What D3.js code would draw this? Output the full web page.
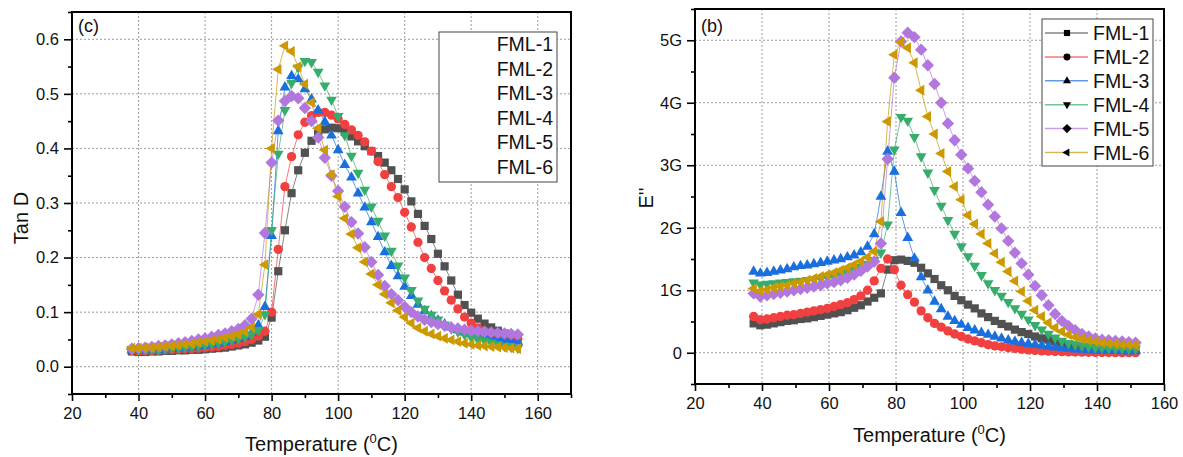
<!DOCTYPE html>
<html>
<head>
<meta charset="utf-8">
<script src="https://cdn.jsdelivr.net/npm/d3@7"></script>
<style>
  body { margin: 0; background: #fff; }
  text { font-family: Arial, "Liberation Sans", sans-serif; fill: #111; }
</style>
</head>
<body>
<svg id="chart" width="1183" height="457"></svg>
<script>
// ---- data ----
const names = ["FML-1", "FML-2", "FML-3", "FML-4", "FML-5", "FML-6"];
const colors = ["#515151", "#F14040", "#1A6FDF", "#37AD6B", "#B177DE", "#CC9900"];
const shapes = ["square", "circle", "up", "down", "diamond", "left"];

// panel (c): tan delta
const tanTemps = [38,40,42,44,46,48,50,52,54,56,58,60,62,64,66,68,70,72,74,76,78,80,82,84,86,88,90,92,94,96,98,100,102,104,106,108,110,112,114,116,118,120,122,124,126,128,130,132,134,136,138,140,142,144,146,148,150,152,154];
const tanFML1 = [.028,.027,.027,.028,.028,.029,.029,.030,.030,.031,.031,.032,.033,.034,.035,.037,.039,.041,.044,.048,.055,.090,.175,.250,.318,.360,.392,.414,.427,.435,.438,.437,.430,.422,.413,.404,.395,.386,.374,.360,.344,.325,.303,.280,.258,.234,.207,.184,.158,.132,.113,.099,.088,.079,.072,.066,.061,.057,.054];
const tanFML2 = [.030,.029,.029,.030,.030,.031,.031,.032,.033,.033,.034,.035,.036,.037,.039,.041,.043,.046,.050,.056,.065,.100,.215,.330,.385,.425,.448,.460,.466,.466,.461,.454,.444,.434,.424,.412,.395,.376,.352,.330,.310,.283,.256,.228,.200,.180,.158,.139,.122,.106,.091,.080,.071,.065,.061,.058,.055,.053,.051];
const tanFML3 = [.030,.030,.030,.031,.031,.032,.033,.034,.035,.036,.038,.039,.041,.043,.045,.048,.051,.055,.062,.076,.110,.240,.432,.512,.533,.527,.509,.490,.470,.449,.424,.397,.370,.347,.318,.292,.265,.238,.210,.185,.166,.147,.130,.114,.102,.093,.085,.078,.072,.067,.063,.060,.057,.055,.053,.051,.049,.048,.046];
const tanFML4 = [.032,.031,.031,.032,.032,.033,.034,.035,.036,.037,.039,.040,.042,.044,.046,.049,.052,.055,.059,.067,.096,.250,.390,.470,.520,.548,.560,.558,.540,.515,.489,.459,.424,.386,.355,.324,.293,.267,.240,.212,.185,.163,.140,.121,.106,.095,.086,.077,.070,.064,.059,.054,.050,.047,.044,.041,.038,.036,.034];
const tanFML5 = [.033,.034,.035,.036,.038,.039,.041,.043,.045,.047,.050,.052,.055,.058,.061,.065,.069,.076,.088,.132,.245,.374,.451,.487,.496,.492,.474,.450,.420,.383,.350,.322,.293,.265,.244,.219,.192,.168,.148,.133,.122,.110,.100,.092,.086,.082,.078,.075,.072,.070,.068,.066,.065,.064,.063,.062,.061,.060,.059];
const tanFML6 = [.034,.034,.035,.035,.036,.037,.038,.039,.041,.042,.044,.046,.048,.050,.053,.056,.059,.064,.072,.096,.187,.400,.545,.588,.578,.550,.518,.484,.437,.397,.352,.312,.272,.243,.218,.192,.170,.150,.133,.117,.103,.091,.080,.071,.065,.060,.056,.052,.049,.046,.043,.041,.039,.038,.037,.036,.035,.034,.033];

// panel (b): loss modulus E'' in G
const lossTemps = [37.5,39.5,41.5,43.5,45.5,47.5,49.5,51.5,53.5,55.5,57.5,59.5,61.5,63.5,65.5,67.5,69.5,71.5,73.5,75.5,77.5,79.5,81.5,83.5,85.5,87.5,89.5,91.5,93.5,95.5,97.5,99.5,101.5,103.5,105.5,107.5,109.5,111.5,113.5,115.5,117.5,119.5,121.5,123.5,125.5,127.5,129.5,131.5,133.5,135.5,137.5,139.5,141.5,143.5,145.5,147.5,149.5,151.5];
const lossFML1 = [0.47,0.44,0.45,0.47,0.49,0.51,0.52,0.54,0.55,0.57,0.59,0.61,0.63,0.65,0.68,0.72,0.76,0.82,0.88,0.95,1.33,1.48,1.49,1.47,1.44,1.36,1.27,1.18,1.08,1.00,0.91,0.84,0.77,0.71,0.63,0.57,0.51,0.46,0.42,0.37,0.33,0.30,0.26,0.23,0.21,0.18,0.16,0.13,0.115,0.10,0.085,0.075,0.065,0.058,0.052,0.048,0.045,0.043];
const lossFML2 = [0.58,0.53,0.54,0.56,0.58,0.60,0.61,0.63,0.65,0.67,0.69,0.71,0.74,0.77,0.80,0.85,0.91,1.00,1.15,1.35,1.50,1.33,1.08,0.93,0.81,0.67,0.56,0.47,0.41,0.35,0.30,0.26,0.22,0.19,0.16,0.13,0.11,0.095,0.08,0.068,0.055,0.045,0.038,0.030,0.025,0.020,0.017,0.014,0.011,0.009,0.007,0.005,0.004,0.003,0.002,0.002,0.001,0.001];
const lossFML3 = [1.30,1.27,1.28,1.30,1.32,1.34,1.37,1.39,1.40,1.42,1.44,1.46,1.48,1.50,1.53,1.56,1.61,1.70,1.90,2.50,3.22,2.90,2.24,1.84,1.51,1.21,1.00,0.82,0.70,0.58,0.51,0.45,0.40,0.36,0.32,0.29,0.26,0.23,0.20,0.18,0.16,0.145,0.13,0.115,0.10,0.088,0.076,0.066,0.057,0.050,0.044,0.040,0.036,0.033,0.031,0.029,0.028,0.027];
const lossFML4 = [1.12,1.09,1.10,1.11,1.12,1.13,1.14,1.15,1.16,1.17,1.19,1.20,1.22,1.25,1.28,1.32,1.37,1.42,1.48,1.60,2.05,3.25,3.77,3.71,3.45,3.14,2.88,2.60,2.35,2.12,1.90,1.70,1.54,1.39,1.24,1.11,1.00,0.91,0.81,0.71,0.62,0.53,0.44,0.37,0.30,0.24,0.19,0.15,0.13,0.11,0.095,0.085,0.078,0.072,0.068,0.066,0.064,0.063];
const lossFML5 = [0.95,0.90,0.92,0.94,0.96,0.98,1.00,1.02,1.04,1.06,1.08,1.11,1.13,1.16,1.20,1.25,1.31,1.38,1.46,1.75,3.10,4.40,4.98,5.12,5.05,4.85,4.60,4.30,4.00,3.67,3.40,3.17,2.95,2.75,2.57,2.37,2.18,1.99,1.79,1.60,1.43,1.25,1.07,0.92,0.76,0.62,0.51,0.43,0.36,0.30,0.26,0.23,0.21,0.20,0.19,0.18,0.17,0.16];
const lossFML6 = [1.03,0.99,1.01,1.04,1.06,1.08,1.11,1.13,1.16,1.19,1.22,1.25,1.28,1.32,1.36,1.41,1.46,1.53,1.62,2.10,3.70,4.77,4.97,4.88,4.64,4.20,3.78,3.50,3.19,2.90,2.66,2.45,2.20,2.06,1.90,1.75,1.59,1.45,1.30,1.15,0.98,0.83,0.68,0.58,0.48,0.40,0.34,0.29,0.25,0.22,0.20,0.18,0.16,0.15,0.14,0.13,0.125,0.12];

const tanSeries = [tanFML1, tanFML2, tanFML3, tanFML4, tanFML5, tanFML6];
const lossSeries = [lossFML1, lossFML2, lossFML3, lossFML4, lossFML5, lossFML6];

const svg = d3.select("#chart");

function markerPath(shape) {
  switch (shape) {
    case "square": return "M-4.1,-4.1H4.1V4.1H-4.1Z";
    case "circle": return d3.symbol(d3.symbolCircle, 68)();
    case "up": return "M0,-6.2L5.4,3.2L-5.4,3.2Z";
    case "down": return "M0,6.2L5.4,-3.2L-5.4,-3.2Z";
    case "diamond": return "M0,-6.2L6.2,0L0,6.2L-6.2,0Z";
    case "left": return "M-6.2,0L3.2,-5.4L3.2,5.4Z";
  }
}

function drawPanel(p) {
  const x = d3.scaleLinear().domain(p.xDomain).range([p.left, p.right]);
  const y = d3.scaleLinear().domain(p.yDomain).range([p.bottom, p.top]);
  const g = svg.append("g");

  // dotted grid
  g.selectAll(".gx").data(p.xGrid).join("line")
    .attr("x1", d => x(d)).attr("x2", d => x(d))
    .attr("y1", p.top).attr("y2", p.bottom)
    .attr("stroke", "#9a9a9a").attr("stroke-dasharray", "2,2");
  g.selectAll(".gy").data(p.yTicks).join("line")
    .attr("x1", p.left).attr("x2", p.right)
    .attr("y1", d => y(d)).attr("y2", d => y(d))
    .attr("stroke", "#9a9a9a").attr("stroke-dasharray", "2,2");

  // series
  p.series.forEach((vals, i) => {
    const pts = p.temps.map((t, j) => [t, vals[j]]);
    g.append("path").datum(pts)
      .attr("fill", "none").attr("stroke", colors[i]).attr("stroke-opacity", 0.7)
      .attr("stroke-width", 1)
      .attr("d", d3.line().x(d => x(d[0])).y(d => y(d[1])));
  });
  p.series.forEach((vals, i) => {
    const pts = p.temps.map((t, j) => [t, vals[j]]);
    g.selectAll(null).data(pts).join("path")
      .attr("d", markerPath(shapes[i]))
      .attr("transform", d => `translate(${x(d[0])},${y(d[1])})`)
      .attr("fill", colors[i]);
  });

  // axes
  g.append("g").attr("transform", `translate(0,${p.bottom})`)
    .call(d3.axisBottom(x).tickValues(p.xTicks).tickSize(7).tickSizeOuter(0).tickPadding(6));
  g.append("g").attr("transform", `translate(0,${p.bottom})`)
    .call(d3.axisBottom(x).tickValues(p.xMinor).tickSize(4).tickSizeOuter(0).tickFormat(""));
  g.append("g").attr("transform", `translate(${p.left},0)`)
    .call(d3.axisLeft(y).tickValues(p.yTicks).tickSize(8).tickSizeOuter(0).tickPadding(5).tickFormat(p.yFormat));
  g.append("g").attr("transform", `translate(${p.left},0)`)
    .call(d3.axisLeft(y).tickValues(p.yMinor).tickSize(4).tickSizeOuter(0).tickFormat(""));
  g.selectAll(".domain").remove();
  g.selectAll(".tick line").attr("stroke", "#000").attr("stroke-width", 1.6);
  g.selectAll(".tick text").style("font-size", "16.5px").attr("fill", "#111");

  g.append("rect")
    .attr("x", p.left).attr("y", p.top)
    .attr("width", p.right - p.left).attr("height", p.bottom - p.top)
    .attr("fill", "none").attr("stroke", "#000").attr("stroke-width", 2);

  // titles
  const xt = g.append("text")
    .attr("x", (p.left + p.right) / 2).attr("y", p.xTitleY)
    .attr("text-anchor", "middle").style("font-size", "20px");
  xt.append("tspan").text("Temperature (");
  xt.append("tspan").text("0").attr("dy", -8).style("font-size", "13px");
  xt.append("tspan").text("C)").attr("dy", 8);

  g.append("text")
    .attr("transform", `translate(${p.yTitleX},${p.yTitleY}) rotate(-90)`)
    .attr("text-anchor", "middle").style("font-size", "20px")
    .text(p.yTitle);

  g.append("text").attr("x", p.left + 6).attr("y", 32)
    .style("font-size", "18px").text(p.label);

  return { x, y, g };
}

// left panel (c)
drawPanel({
  left: 72, right: 571, top: 12, bottom: 394,
  xDomain: [20, 170], yDomain: [-0.05, 0.65],
  xTicks: [20, 40, 60, 80, 100, 120, 140, 160],
  xMinor: [30, 50, 70, 90, 110, 130, 150, 170],
  xGrid: [40, 60, 80, 100, 120, 140, 160],
  yTicks: [0, 0.1, 0.2, 0.3, 0.4, 0.5, 0.6],
  yMinor: [-0.05, 0.05, 0.15, 0.25, 0.35, 0.45, 0.55, 0.65],
  yFormat: d3.format(".1f"),
  temps: tanTemps, series: tanSeries,
  xTitleY: 451, yTitle: "Tan D", yTitleX: 28, yTitleY: 218, label: "(c)"
});

// legend (c): text only
const legC = svg.append("g");
legC.append("rect").attr("x", 439).attr("y", 32).attr("width", 118).attr("height", 150)
  .attr("fill", "#fff").attr("stroke", "#444").attr("stroke-width", 1);
names.forEach((n, i) => {
  legC.append("text").attr("x", 553).attr("y", 44 + i * 24.6)
    .attr("text-anchor", "end").attr("dominant-baseline", "central")
    .style("font-size", "19.5px").text(n);
});

// right panel (b)
drawPanel({
  left: 695, right: 1164, top: 9, bottom: 384,
  xDomain: [20, 160], yDomain: [-0.5, 5.5],
  xTicks: [20, 40, 60, 80, 100, 120, 140, 160],
  xMinor: [30, 50, 70, 90, 110, 130, 150],
  xGrid: [40, 60, 80, 100, 120, 140],
  yTicks: [0, 1, 2, 3, 4, 5],
  yMinor: [-0.5, 0.5, 1.5, 2.5, 3.5, 4.5, 5.5],
  yFormat: d => d === 0 ? "0" : d + "G",
  temps: lossTemps, series: lossSeries,
  xTitleY: 442, yTitle: "E''", yTitleX: 653, yTitleY: 198, label: "(b)"
});

// legend (b): line + black marker
const legB = svg.append("g");
legB.append("rect").attr("x", 1042).attr("y", 19).attr("width", 111).attr("height", 147)
  .attr("fill", "#fff").attr("stroke", "#444").attr("stroke-width", 1);
names.forEach((n, i) => {
  const cy = 33 + i * 23.9;
  legB.append("line").attr("x1", 1045).attr("x2", 1088).attr("y1", cy).attr("y2", cy)
    .attr("stroke", colors[i]).attr("stroke-opacity", 0.7).attr("stroke-width", 1.5);
  legB.append("path").attr("d", markerPath(shapes[i]))
    .attr("transform", `translate(1067,${cy}) scale(0.75)`).attr("fill", "#000");
  legB.append("text").attr("x", 1093).attr("y", cy)
    .attr("dominant-baseline", "central").style("font-size", "19.5px").text(n);
});
</script>
</body>
</html>
